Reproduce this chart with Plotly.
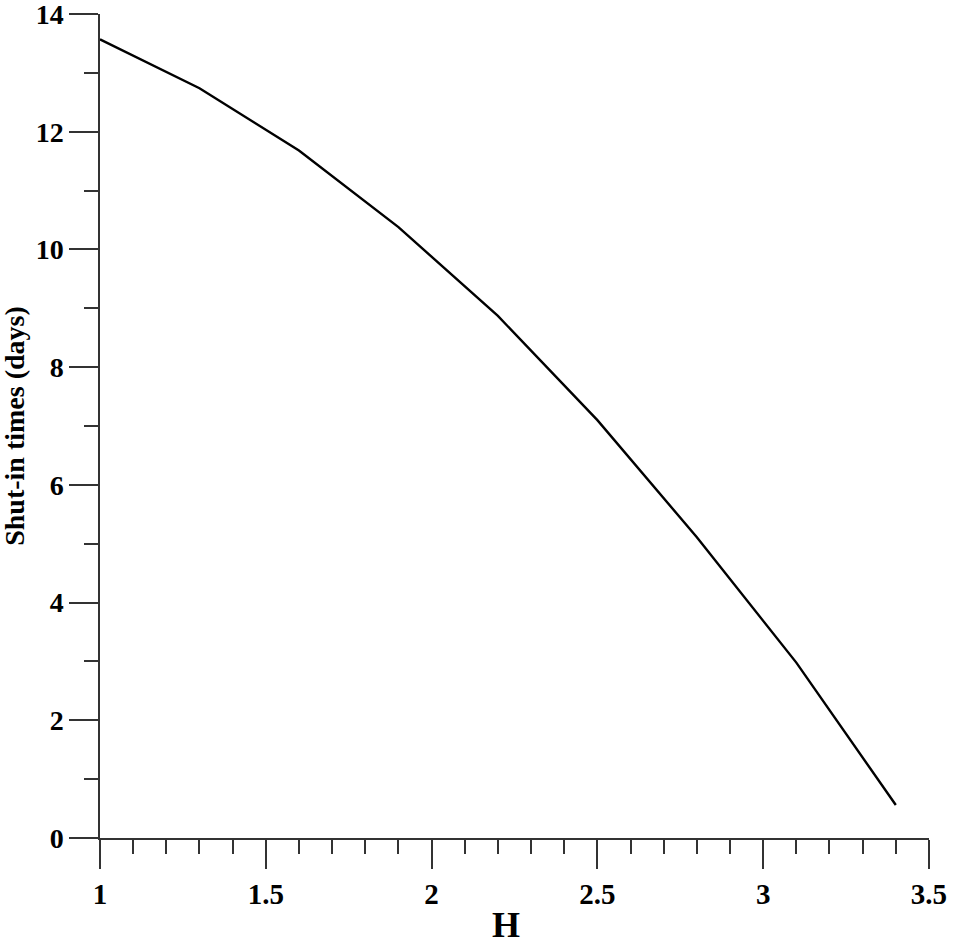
import plotly.graph_objects as go

# H values and the shut-in times
h = [1.0, 1.3, 1.6, 1.9, 2.2, 2.5, 2.8, 3.1, 3.4]
shut_in_days = [13.57, 12.74, 11.68, 10.38, 8.87, 7.10, 5.11, 2.98, 0.56]

x_ticks = [1, 1.5, 2, 2.5, 3, 3.5]
y_ticks = [0, 2, 4, 6, 8, 10, 12, 14]

font = 'Liberation Serif, Times New Roman, serif'

trace = go.Scatter(
    x=h,
    y=shut_in_days,
    mode='lines',
    line=dict(color='black', width=2.4),
    showlegend=False
)

layout = go.Layout(
    width=980,
    height=945,
    margin=dict(l=100, r=51, t=14, b=107),
    plot_bgcolor='white',
    paper_bgcolor='white',
    font=dict(family=font, color='black'),
    xaxis=dict(
        range=[1, 3.5001],
        tickvals=x_ticks,
        ticktext=[str(v) for v in x_ticks],
        ticks='outside', ticklen=29, tickwidth=1.5, tickcolor='#333',
        minor=dict(dtick=0.1, ticks='outside', ticklen=14, tickwidth=1.5, tickcolor='#333'),
        showline=True, linecolor='#333', linewidth=1.5,
        showgrid=False, zeroline=False, automargin=False,
        ticklabeloverflow='allow',
        tickfont=dict(size=29, family=font, weight='bold'),
        title=None
    ),
    yaxis=dict(
        range=[0, 14.0005],
        tickvals=y_ticks,
        ticks='outside', ticklen=29, tickwidth=1.5, tickcolor='#333',
        minor=dict(dtick=1, ticks='outside', ticklen=14, tickwidth=1.5, tickcolor='#333'),
        showline=True, linecolor='#333', linewidth=1.5,
        showgrid=False, zeroline=False, automargin=False,
        ticklabeloverflow='allow',
        tickfont=dict(size=28, family=font, weight='bold'),
        title=None
    ),
    annotations=[
        dict(text='H', xref='paper', yref='paper', x=0.490, y=-0.106,
             yanchor='middle', xanchor='center', showarrow=False,
             font=dict(size=36, family=font, weight='bold')),
        dict(text='Shut-in times (days)', xref='paper', yref='paper',
             x=-0.104, y=0.5, xanchor='center', yanchor='middle',
             textangle=-90, showarrow=False,
             font=dict(size=28, family=font, weight='bold')),
    ]
)

fig = go.Figure(data=[trace], layout=layout)
# drop the default 8px page margin so the figure sits at the window corner
fig.write_html('out.html', config={'displayModeBar': False},
               post_script="document.body.style.margin='0';")
